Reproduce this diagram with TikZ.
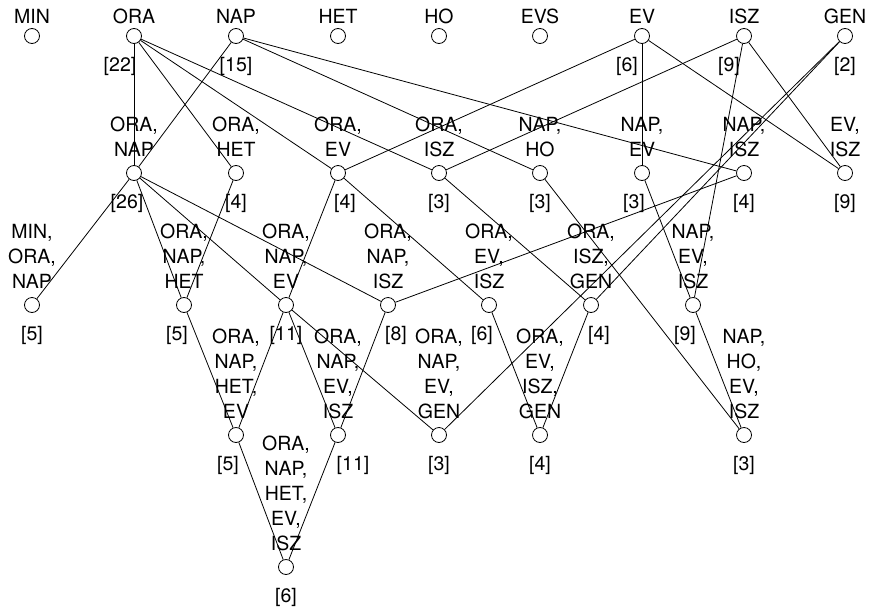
\documentclass[tikz,border=0pt]{standalone}
\usepackage{fontspec}
\setsansfont{TeX Gyre Heros}

\begin{document}
\begin{tikzpicture}[
    x=1pt, y=-1pt,
    font=\sffamily\fontsize{19.5}{25}\selectfont,
    label distance=0pt,
    l/.style={
        line width=0.8pt,
        color=black,
    },
    c/.style={
        circle, draw, line width=0.8pt, fill=white,
        minimum size=15pt, inner sep=0pt
    },
    t/.style={
        align=center, inner sep=0pt, yshift=8pt
    },
    n/.style={
        inner sep=0pt, yshift=-13pt
    }
]

    \useasboundingbox (0,0) rectangle (872,608);

    % objects
    \node [c,label={[t,yshift=-4pt]above:MIN}] (min) at ( 32, 36) {};
    \node [c,label={[t,yshift=-4pt]above:ORA},label={[n,xshift=-14pt]below:{[22]}}] (ora) at (134, 36) {};
    \node [c,label={[t,yshift=-4pt]above:NAP},label={[n]below:{[15]}}] (nap) at (236, 36) {};
    \node [c,label={[t,yshift=-4pt]above:HET}] (het) at (338, 36) {};
    \node [c,label={[t,yshift=-4pt]above:HO}] (ho) at (439, 36) {};
    \node [c,label={[t,yshift=-4pt]above:EVS}] (evs) at (540, 36) {};
    \node [c,label={[t,yshift=-4pt]above:EV},label={[n,xshift=-15pt]below:{[6]}}] (ev) at (642, 36) {};
    \node [c,label={[t,yshift=-4pt]above:ISZ},label={[n,xshift=-15pt]below:{[9]}}] (isz) at (744, 36) {};
    \node [c,label={[t,yshift=-4pt]above:GEN},label={[n]below:{[2]}}] (gen) at (845, 36) {};

    % pairs
    \node [c,label={[t]above:{ORA,\\NAP}},label={[n,xshift=-7pt]below:{[26]}}] (oranap) at (134,173) {};
    \node [c,label={[t]above:{ORA,\\HET}},label={[n]below:{[4]}}] (orahet) at (236,173) {};
    \node [c,label={[t]above:{ORA,\\EV}},label={[n,xshift=7pt]below:{[4]}}] (oraev) at (338,173) {};
    \node [c,label={[t]above:{ORA,\\ISZ}},label={[n]below:{[3]}}] (oraisz) at (439,173) {};
    \node [c,label={[t]above:{NAP,\\HO}},label={[n]below:{[3]}}] (napho) at (540,173) {};
    \node [c,label={[t]above:{NAP,\\EV}},label={[n,xshift=-8pt]below:{[3]}}] (napev) at (642,173) {};
    \node [c,label={[t]above:{NAP,\\ISZ}},label={[n]below:{[4]}}] (napisz) at (744,173) {};
    \node [c,label={[t]above:{EV,\\ISZ}},label={[n]below:{[9]}}] (evisz) at (845,173) {};

    % triples
    \node [c,label={[t]above:{MIN,\\ORA,\\NAP}},label={[n]below:{[5]}}] (minoranap) at ( 32,305) {};
    \node [c,label={[t]above:{ORA,\\NAP,\\HET}},label={[n,xshift=-7pt]below:{[5]}}] (oranaphet) at (184,305) {};
    \node [c,label={[t]above:{ORA,\\NAP,\\EV}},label={[n]below:{[11]}}] (oranapev) at (286,305) {};
    \node [c,label={[t]above:{ORA,\\NAP,\\ISZ}},label={[n,xshift=8pt]below:{[8]}}] (oranapisz) at (388,305) {};
    \node [c,label={[t]above:{ORA,\\EV,\\ISZ}},label={[n,xshift=-7pt]below:{[6]}}] (oraevisz) at (489,305) {};
    \node [c,label={[t]above:{ORA,\\ISZ,\\GEN}},label={[n,xshift=8pt]below:{[4]}}] (oraiszgen) at (591,305) {};
    \node [c,label={[t]above:{NAP,\\EV,\\ISZ}},label={[n,xshift=-8pt]below:{[9]}}] (napevisz) at (693,305) {};

    % quadruples
    \node [c,label={[t]above:{ORA,\\NAP,\\HET,\\EV}},label={[n,xshift=-8pt]below:{[5]}}] (oranaphetev) at (236,435) {};
    \node [c,label={[t]above:{ORA,\\NAP,\\EV,\\ISZ}},label={[n,xshift=15pt]below:{[11]}}] (oranapevisz) at (338,435) {};
    \node [c,label={[t]above:{ORA,\\NAP,\\EV,\\GEN}},label={[n]below:{[3]}}] (oranapevgen) at (439,435) {};
    \node [c,label={[t]above:{ORA,\\EV,\\ISZ,\\GEN}},label={[n]below:{[4]}}] (oraeviszgen) at (540,435) {};
    \node [c,label={[t]above:{NAP,\\HO,\\EV,\\ISZ}},label={[n]below:{[3]}}] (naphoevisz) at (744,435) {};

    % bottom
    \node [c,label={[t]above:{ORA,\\NAP,\\HET,\\EV,\\ISZ}},label={[n]below:{[6]}}] (oranaphetevisz) at (286,567) {};

    \draw (ora) -- (oranap) [l];
    \draw (ora) -- (orahet) [l];
    \draw (ora) -- (oraev) [l];
    \draw (ora) -- (oraisz) [l];
    \draw (nap) -- (oranap) [l];
    \draw (nap) -- (napho) [l];
    \draw (nap) -- (napisz) [l];
    \draw (ev) -- (oraev) [l];
    \draw (ev) -- (napev) [l];
    \draw (ev) -- (evisz) [l];
    \draw (isz) -- (oraisz) [l];
    \draw (isz) -- (evisz) [l];
    \draw (isz) -- (napevisz) [l];
    \draw (gen) -- (oraiszgen) [l];
    \draw (gen) -- (oranapevgen) [l];

    \draw (oranap) -- (minoranap) [l];
    \draw (oranap) -- (oranaphet) [l];
    \draw (oranap) -- (oranapev) [l];
    \draw (oranap) -- (oranapisz) [l];
    \draw (orahet) -- (oranaphet) [l];
    \draw (oraev) -- (oranapev) [l];
    \draw (oraev) -- (oraevisz) [l];
    \draw (oraisz) -- (oraiszgen) [l];
    \draw (napho) -- (naphoevisz) [l];
    \draw (napev) -- (napevisz) [l];
    \draw (napisz) -- (oranapisz) [l];

    \draw (oranaphet) -- (oranaphetev) [l];
    \draw (oranapev) -- (oranaphetev) [l];
    \draw (oranapev) -- (oranapevisz) [l];
    \draw (oranapev) -- (oranapevgen) [l];
    \draw (oranapisz) -- (oranapevisz) [l];
    \draw (oraevisz) -- (oraeviszgen) [l];
    \draw (oraiszgen) -- (oraeviszgen) [l];
    \draw (napevisz) -- (naphoevisz) [l];

    \draw (oranaphetev) -- (oranaphetevisz) [l];
    \draw (oranapevisz) -- (oranaphetevisz) [l];

\end{tikzpicture}
\end{document}
